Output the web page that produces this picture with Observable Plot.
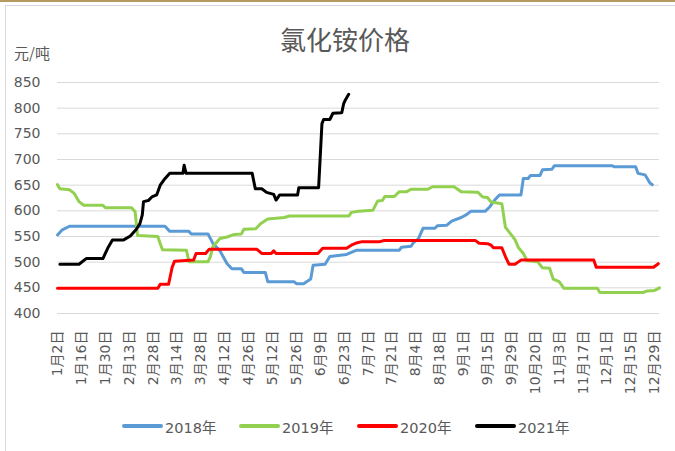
<!DOCTYPE html>
<html>
<head>
<meta charset="utf-8">
<script src="https://cdn.jsdelivr.net/npm/d3@7"></script>
<script src="https://cdn.jsdelivr.net/npm/@observablehq/plot@0.6"></script>
<style>
  html, body { margin: 0; padding: 0; background: #fff; }
  #wrap { position: relative; width: 675px; height: 451px; overflow: hidden; background: #fff;
          font-family: "DejaVu Sans", "Noto Sans CJK SC", sans-serif; color: #595959; }
  #chart { position: absolute; left: 0; top: 0; }
  .abs { position: absolute; white-space: nowrap; }
  #topbar { left: 0; top: 0; width: 675px; height: 2px; background: #b59a62; }
  #frame { left: 5px; top: 5px; width: 700px; height: 460px; border-left: 1px solid #d9d9d9; border-top: 1px solid #d9d9d9; }
  #title { left: 0; width: 690px; top: 20px; text-align: center; font-family: "Noto Sans CJK SC", sans-serif; font-size: 26px; }
  #unit { left: 14px; top: 42px; font-family: "Noto Sans CJK SC", sans-serif; font-size: 15px; }
  .leg { top: 417px; height: 18px; display: flex; align-items: center; font-size: 14.5px; }
  .sw { width: 41px; height: 3.5px; border-radius: 2px; margin-right: 2px; }
</style>
</head>
<body>
<div id="wrap">
  <div id="chart"></div>
  <div id="topbar" class="abs"></div>
  <div id="frame" class="abs"></div>
  <div id="title" class="abs">氯化铵价格</div>
  <div id="unit" class="abs">元/吨</div>
  <div id="legend"></div>
</div>
<script>
// Category labels (every 10th trading day)
const xLabels = ["1月2日","1月16日","1月30日","2月13日","2月28日","3月14日","3月28日","4月12日","4月26日",
  "5月12日","5月26日","6月9日","6月23日","7月7日","7月21日","8月4日","8月18日","9月1日","9月15日",
  "9月29日","10月20日","11月3日","11月17日","12月1日","12月15日","12月29日"];
const yTicks = [400, 450, 500, 550, 600, 650, 700, 750, 800, 850];
const seriesNames = ["2018年", "2019年", "2020年", "2021年"];
const seriesColors = ["#5b9bd5", "#92d050", "#ff0000", "#000000"];

// [trading-day index, 元/吨]
const s2018 = [[0,553],[2,563],[5,570],[45,570],[47,560],[55,560],[56,555],[63,555],[65,537],[68,522],[71,497],
  [73,487],[77,487],[78,480],[87,480],[88,462],[99,462],[100,458],[103,458],[106,467],[107,494],[112,496],
  [114,511],[121,515],[125,523],[143,523],[144,529],[148,531],[149,538],[151,545],[153,566],[158,566],
  [159,571],[163,572],[165,580],[169,587],[171,592],[173,599],[179,599],[181,608],[183,621],[185,631],
  [194,631],[195,663],[197,663],[198,669],[202,669],[203,680],[207,681],[208,688],[232,688],[233,686],
  [242,686],[243,673],[246,670],[248,654],[249,651]];
const s2019 = [[0,651],[1,643],[5,641],[7,634],[9,618],[11,611],[19,611],[20,606],[31,606],[32.5,598],
  [33.5,552],[42,550],[43,536],[44,524],[54,523],[55,501],[63,501],[64,511],[65,530],[68,546],[71,549],
  [74,554],[77,555],[78,564],[83,565],[85,575],[88,584],[95,587],[97,590],[122,590],[123,597],[126,599],
  [132,601],[134,619],[136,620],[137,628],[141,628],[143,637],[146,637],[148,642],[155,642],[157,647],
  [166,647],[169,637],[176,636],[178,627],[180,626],[181.5,617],[186,614],[187.5,568],[189.5,556],
  [191.5,544],[193,528],[195,517],[196.5,503],[201,501],[203,489],[206,488],[207.5,467],[210,462],
  [212,449],[226,449],[227,441],[245,441],[247,444],[250,445],[252,450]];
const s2020 = [[0,449],[42,449],[43,457],[46.5,457],[48,490],[49,502],[57,504],[58,517],[62,517],[63.5,525],
  [83.5,525],[85.5,517],[89.5,517],[90.5,522],[91.5,517],[109,517],[111,527],[121,527],[123,533],
  [125.5,538],[127.5,540],[135,540],[136.5,542],[175,542],[176.5,537],[180,536],[181.5,533],[182.5,528],
  [186,528],[187.5,511],[189,496],[191.5,496],[194,504],[224.5,504],[225.5,490],[249.5,490],[251.5,497]];
const s2021 = [[1,496],[9,496],[12,507],[19,507],[21,527],[23,543],[27.5,543],[30.5,551],[33,564],[34.5,575],
  [35.5,592],[36,618],[38,620],[39.5,627],[41.5,631],[43,650],[44.5,660],[47,673],[52.5,673],[53,689],
  [53.8,673],[81.5,673],[82.8,643],[85.5,643],[87.5,636],[90.5,632],[91.5,621],[93,631],[100.5,631],
  [101,645],[109.3,645],[110.7,770],[111.4,778],[114,778],[115.3,790],[119,791],[119.8,809],[120.5,816],
  [121.9,827]];

const allSeries = [s2018, s2019, s2020, s2021];
const rows = allSeries.flatMap((s, k) => s.map(([i, v]) => ({i, v, year: seriesNames[k]})));

const chart = Plot.plot({
  width: 675,
  height: 451,
  marginLeft: 57,
  marginRight: 16,
  marginTop: 82,
  marginBottom: 138,
  style: {fontFamily: '"DejaVu Sans", "Noto Sans CJK SC", sans-serif', fontSize: "14px", color: "#595959", background: "transparent"},
  x: {domain: [0, 252]},
  y: {domain: [400, 850]},
  color: {domain: seriesNames, range: seriesColors},
  marks: [
    Plot.gridY(yTicks, {stroke: "#d9d9d9", strokeOpacity: 1, strokeWidth: 1}),
    Plot.axisY({ticks: yTicks, tickSize: 0, tickPadding: 17, label: null}),
    Plot.axisX({ticks: d3.range(0, 251, 10), tickFormat: i => xLabels[i / 10], tickRotate: -90, tickSize: 0, tickPadding: 17, label: null}),
    Plot.line(rows, {x: "i", y: "v", z: "year", stroke: "year", strokeWidth: 3, strokeLinejoin: "round", strokeLinecap: "round"})
  ]
});
document.getElementById("chart").appendChild(chart);

// legend
const legX = [122, 239, 357, 475];
const legend = document.getElementById("legend");
seriesNames.forEach((name, k) => {
  const item = document.createElement("div");
  item.className = "abs leg";
  item.style.left = legX[k] + "px";
  const sw = document.createElement("div");
  sw.className = "sw";
  sw.style.background = seriesColors[k];
  const tx = document.createElement("span");
  tx.textContent = name;
  item.appendChild(sw);
  item.appendChild(tx);
  legend.appendChild(item);
});
</script>
</body>
</html>
